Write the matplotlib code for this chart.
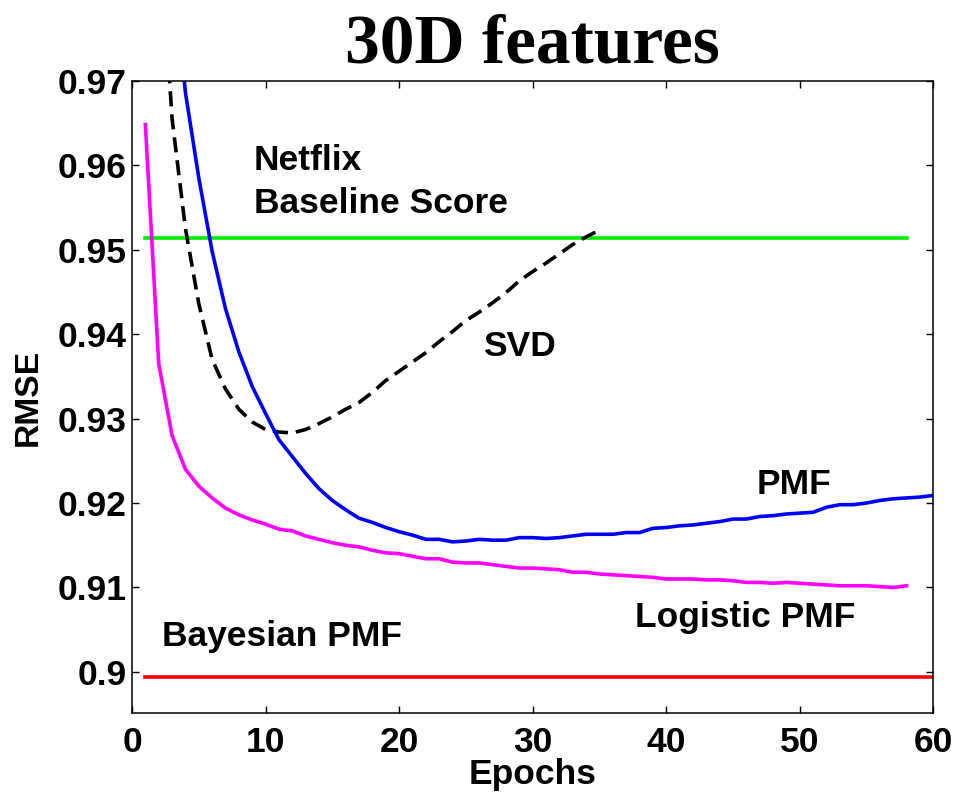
import numpy as np
import matplotlib.pyplot as plt
from matplotlib.ticker import FixedLocator, FixedFormatter

plt.rcParams['font.family'] = ['Liberation Sans', 'DejaVu Sans']
plt.rcParams['font.weight'] = 'bold'

# RMSE per epoch for each model
pmf_epochs = np.arange(3, 61)
pmf_rmse = [0.9850, 0.9686, 0.9585, 0.9498, 0.9430, 0.9379, 0.9338, 0.9306, 0.9275, 0.9255,
            0.9235, 0.9217, 0.9203, 0.9192, 0.9182, 0.9177, 0.9171, 0.9166, 0.9162, 0.9157,
            0.9157, 0.9154, 0.9155, 0.9157, 0.9156, 0.9156, 0.9159, 0.9159, 0.9158, 0.9159,
            0.9161, 0.9163, 0.9163, 0.9163, 0.9165, 0.9165, 0.9170, 0.9171, 0.9173, 0.9174,
            0.9176, 0.9178, 0.9181, 0.9181, 0.9184, 0.9185, 0.9187, 0.9188, 0.9189, 0.9195,
            0.9198, 0.9198, 0.9200, 0.9203, 0.9205, 0.9206, 0.9207, 0.9209]

logistic_epochs = np.arange(1, 59)
logistic_rmse = [0.9648, 0.9365, 0.9280, 0.9240, 0.9220, 0.9206, 0.9194, 0.9186, 0.9180, 0.9175,
                 0.9169, 0.9167, 0.9161, 0.9157, 0.9153, 0.9150, 0.9148, 0.9144, 0.9141, 0.9140,
                 0.9137, 0.9134, 0.9134, 0.9130, 0.9129, 0.9129, 0.9127, 0.9125, 0.9123, 0.9123,
                 0.9122, 0.9121, 0.9118, 0.9118, 0.9116, 0.9115, 0.9114, 0.9113, 0.9112, 0.9110,
                 0.9110, 0.9110, 0.9109, 0.9109, 0.9108, 0.9106, 0.9106, 0.9105, 0.9106, 0.9105,
                 0.9104, 0.9103, 0.9102, 0.9102, 0.9102, 0.9101, 0.9100, 0.9102]

svd_epochs = np.arange(2, 36)
svd_rmse = [0.9900, 0.9655, 0.9525, 0.9436, 0.9370, 0.9335, 0.9311, 0.9296, 0.9287, 0.9284,
            0.9283, 0.9287, 0.9294, 0.9302, 0.9311, 0.9319, 0.9331, 0.9345, 0.9356, 0.9367,
            0.9378, 0.9391, 0.9403, 0.9416, 0.9426, 0.9437, 0.9449, 0.9463, 0.9474, 0.9484,
            0.9495, 0.9506, 0.9515, 0.9523]

netflix_score = 0.9514
netflix_span = [1, 58]
bayesian_score = 0.8994
bayesian_span = [1, 60]

yticks = [0.9, 0.91, 0.92, 0.93, 0.94, 0.95, 0.96, 0.97]
ytick_labels = ['0.9', '0.91', '0.92', '0.93', '0.94', '0.95', '0.96', '0.97']
xticks = [0, 10, 20, 30, 40, 50, 60]

fs = 25.5

fig = plt.figure(figsize=(9.6, 7.94), dpi=100)
ax = fig.add_axes([0.1375, 0.1016, 0.8347, 0.7968])

ax.plot(netflix_span, [netflix_score] * 2, color='#00ee00', lw=2.6)
ax.plot(bayesian_span, [bayesian_score] * 2, color='#ff0000', lw=2.6)
ax.plot(svd_epochs, svd_rmse, color='k', lw=2.6, linestyle=(0, (4.2, 2.2)))
ax.plot(pmf_epochs, pmf_rmse, color='#0000ff', lw=2.6)
ax.plot(logistic_epochs, logistic_rmse, color='#ff00ff', lw=2.6)

ax.text(9.13, 0.95943, 'Netflix', fontsize=fs, fontweight='bold', va='baseline')
ax.text(9.13, 0.95430, 'Baseline Score', fontsize=fs, fontweight='bold', va='baseline')
ax.text(26.3, 0.93744, 'SVD', fontsize=fs, fontweight='bold', va='baseline')
ax.text(46.78, 0.92102, 'PMF', fontsize=fs, fontweight='bold', va='baseline')
ax.text(37.66, 0.90535, 'Logistic PMF', fontsize=fs, fontweight='bold', va='baseline')
ax.text(2.22, 0.90310, 'Bayesian PMF', fontsize=fs, fontweight='bold', va='baseline')

ax.set_xlim(0, 60)
ax.set_ylim(0.8951, 0.97)
ax.xaxis.set_major_locator(FixedLocator(xticks))
ax.yaxis.set_major_locator(FixedLocator(yticks))
ax.yaxis.set_major_formatter(FixedFormatter(ytick_labels))
ax.tick_params(direction='in', length=5, width=1, top=True, right=True, labelsize=fs)
ax.tick_params(axis='x', pad=9)
ax.tick_params(axis='y', pad=4)
for s in ax.spines.values():
    s.set_linewidth(1.1)

ax.set_xlabel('Epochs', fontsize=fs, fontweight='bold')
ax.xaxis.set_label_coords(0.5, -0.0707)
ax.set_ylabel('RMSE', fontsize=fs * 0.95, fontweight='bold')
ax.yaxis.set_label_coords(-0.11, 0.5)

ax.set_title('30D features', fontsize=50, fontweight='bold', family='Liberation Serif', pad=13)

fig.savefig('out.png', dpi=100)
